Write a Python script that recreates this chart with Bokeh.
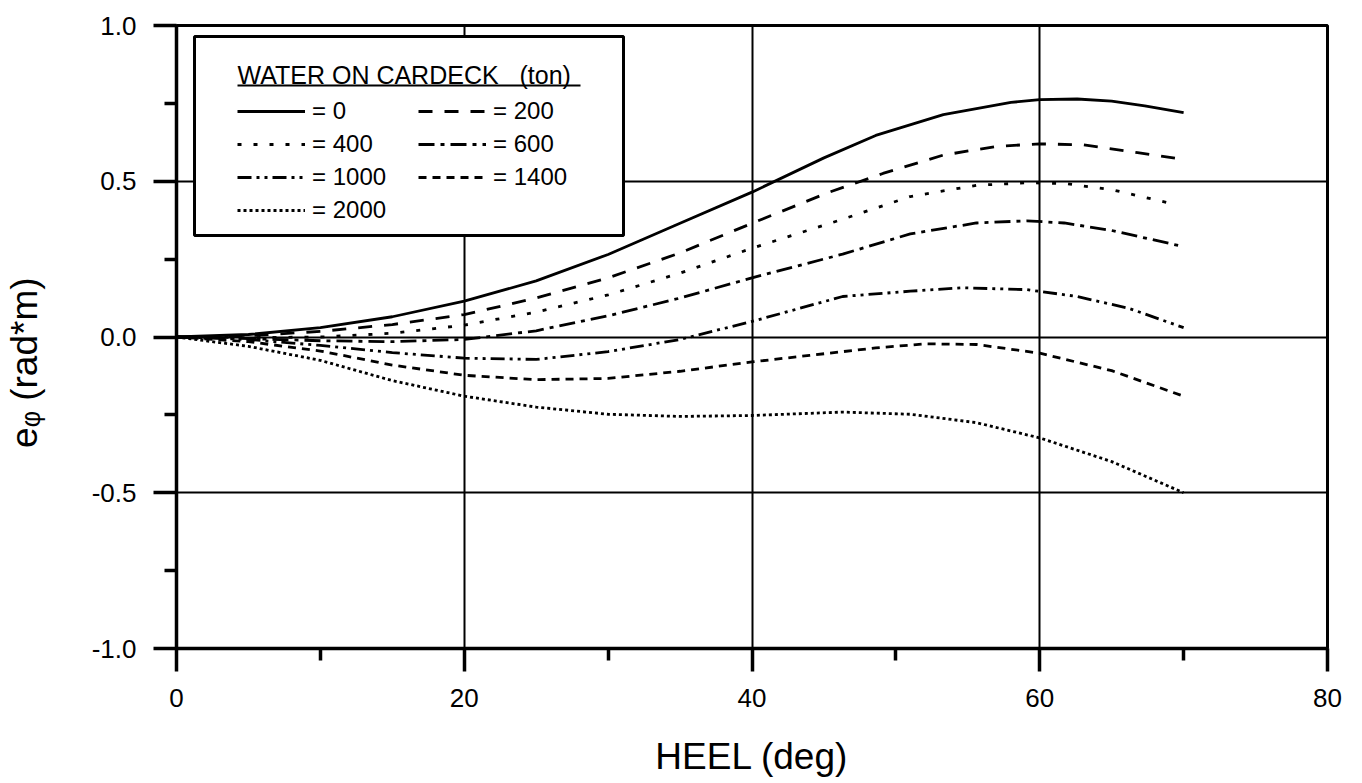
from bokeh.plotting import figure
from bokeh.models import (Legend, LegendItem, Label, BoxAnnotation, FixedTicker,
                          PrintfTickFormatter, Range1d)
from bokeh.embed import file_html
from bokeh.resources import INLINE

# ---- data ----
heel_0 = [0, 5, 10, 15, 20, 25, 30, 35, 40, 45, 48.6, 53.3, 58, 60, 62.6, 65, 67.3, 70]
e_0 = [0, 0.008, 0.03, 0.065, 0.115, 0.18, 0.265, 0.365, 0.465, 0.575, 0.647, 0.714, 0.753, 0.762, 0.764, 0.757, 0.742, 0.72]

heel_200 = [0, 5, 10, 15, 20, 25, 30, 35, 40, 45.2, 49.1, 53.3, 57, 60, 63, 66.8, 70]
e_200 = [0, 0.004, 0.018, 0.04, 0.072, 0.125, 0.19, 0.27, 0.365, 0.462, 0.525, 0.584, 0.612, 0.62, 0.617, 0.592, 0.57]

heel_400 = [0, 5, 10, 15, 20, 25, 30, 35, 40, 46.3, 51, 55.6, 59.1, 61.7, 65, 69]
e_400 = [0, -0.002, 0.0, 0.012, 0.038, 0.08, 0.135, 0.205, 0.285, 0.378, 0.451, 0.487, 0.495, 0.493, 0.473, 0.43]

heel_600 = [0, 5, 10, 15, 20, 25, 30, 35, 40, 46.3, 51, 55.6, 59.1, 61.7, 65, 70]
e_600 = [0, -0.005, -0.012, -0.015, -0.008, 0.02, 0.068, 0.125, 0.19, 0.266, 0.331, 0.366, 0.373, 0.366, 0.342, 0.29]

heel_1000 = [0, 5, 10, 15, 20, 25, 30, 35, 40, 46.3, 51, 54.6, 59.1, 62.6, 66.2, 70]
e_1000 = [0, -0.008, -0.027, -0.05, -0.068, -0.072, -0.047, -0.008, 0.05, 0.13, 0.147, 0.158, 0.152, 0.13, 0.092, 0.03]

heel_1400 = [0, 5, 10, 15, 20, 25, 30, 35, 40, 44, 48.6, 52.1, 55.6, 60, 65, 70]
e_1400 = [0, -0.015, -0.045, -0.09, -0.123, -0.137, -0.133, -0.11, -0.08, -0.059, -0.035, -0.022, -0.024, -0.052, -0.108, -0.19]

heel_2000 = [0, 5, 10, 15, 20, 25, 30, 35, 40, 46.3, 51, 55.6, 60, 65, 70]
e_2000 = [0, -0.03, -0.075, -0.14, -0.19, -0.225, -0.248, -0.255, -0.252, -0.241, -0.248, -0.275, -0.324, -0.4, -0.5]

labels = ["= 0", "= 200", "= 400", "= 600", "= 1000", "= 1400", "= 2000"]
legend_title = "WATER ON CARDECK \u00a0 (ton)"
x_title = "HEEL (deg)"
y_title = "e\u1d69 (rad*m)"
x_ticks = [0, 20, 40, 60, 80]
x_minor = [10, 30, 50, 70]
y_ticks = [-1.0, -0.5, 0.0, 0.5, 1.0]
y_minor = [-0.75, -0.25, 0.25, 0.75]

FONT = "Liberation Sans"

# trailing no-break spaces push the visible y title slightly below the frame centre
p = figure(width=1346, height=780, output_backend="svg", toolbar_location=None,
           x_range=Range1d(0, 80), y_range=Range1d(-1, 1),
           min_border_left=176, min_border_right=19, min_border_top=25, min_border_bottom=132,
           x_axis_label=x_title, y_axis_label=y_title + "\u00a0" * 5)
p.background_fill_color = "white"
p.border_fill_color = "white"
p.outline_line_color = "black"
p.outline_line_width = 3

# grid
for g in (p.xgrid, p.ygrid):
    g.grid_line_color = "black"
    g.grid_line_width = 2
p.xgrid.ticker = FixedTicker(ticks=x_ticks)
p.ygrid.ticker = FixedTicker(ticks=y_ticks)

# axes
p.xaxis.ticker = FixedTicker(ticks=x_ticks, minor_ticks=x_minor)
p.yaxis.ticker = FixedTicker(ticks=y_ticks, minor_ticks=y_minor)
p.xaxis.formatter = PrintfTickFormatter(format="%d")
p.yaxis.formatter = PrintfTickFormatter(format="%.1f")
for ax in (p.xaxis, p.yaxis):
    ax.axis_line_width = 3.5
    ax.axis_line_color = "black"
    ax.major_tick_line_width = 3.5
    ax.minor_tick_line_width = 3.5
    ax.major_tick_line_color = "black"
    ax.minor_tick_line_color = "black"
    ax.major_tick_out = 23
    ax.major_tick_in = 0
    ax.minor_tick_out = 12
    ax.minor_tick_in = 0
    ax.major_label_text_font = FONT
    ax.major_label_text_font_size = "26px"
    ax.major_label_text_color = "black"
    ax.axis_label_text_font = FONT
    ax.axis_label_text_font_size = "37px"
    ax.axis_label_text_font_style = "normal"
    ax.axis_label_text_color = "black"
p.xaxis.major_label_standoff = 17
p.xaxis.axis_label_standoff = 26
p.yaxis.major_label_standoff = 17
p.yaxis.axis_label_standoff = 44

# curves
series = [
    (heel_0, e_0, "solid"),
    (heel_200, e_200, "14 12"),
    (heel_400, e_400, "4 12"),
    (heel_600, e_600, "16 6 4 6"),
    (heel_1000, e_1000, "14 5 3 5 3 5"),
    (heel_1400, e_1400, "8 6"),
    (heel_2000, e_2000, "3 3"),
]
rends = []
for xs, ys, dash in series:
    r = p.line(xs, ys, line_color="black", line_width=2.8, line_dash=dash)
    rends.append(r)

# legend box
box = BoxAnnotation(left=18, right=447, top=612, bottom=413,
                    left_units="screen", right_units="screen", top_units="screen", bottom_units="screen",
                    fill_color="white", fill_alpha=1, line_color="black", line_alpha=1,
                    line_width=3, line_dash="solid")
p.add_layout(box)

title = Label(x=61, y=574, x_units="screen", y_units="screen", text=legend_title,
              text_font=FONT, text_font_size="25px", text_color="black",
              text_baseline="alphabetic", text_align="left")
p.add_layout(title)
underline = BoxAnnotation(left=61, right=404, top=564, bottom=562,
                          left_units="screen", right_units="screen", top_units="screen", bottom_units="screen",
                          fill_color="black", fill_alpha=1, line_alpha=0)
p.add_layout(underline)

def make_legend(idx, loc):
    lg = Legend(items=[LegendItem(label=labels[i], renderers=[rends[i]]) for i in idx],
                location=loc, orientation="vertical",
                padding=0, margin=0, spacing=5,
                glyph_width=68, glyph_height=24, label_height=24, label_standoff=7,
                label_text_font=FONT, label_text_font_size="24px", label_text_color="black",
                border_line_alpha=0, background_fill_alpha=0)
    return lg

p.add_layout(make_legend([0, 2, 4, 6], (61, 424)))
p.add_layout(make_legend([1, 3, 5], (242, 457)))

open("out.html", "w").write(file_html(p, INLINE))
